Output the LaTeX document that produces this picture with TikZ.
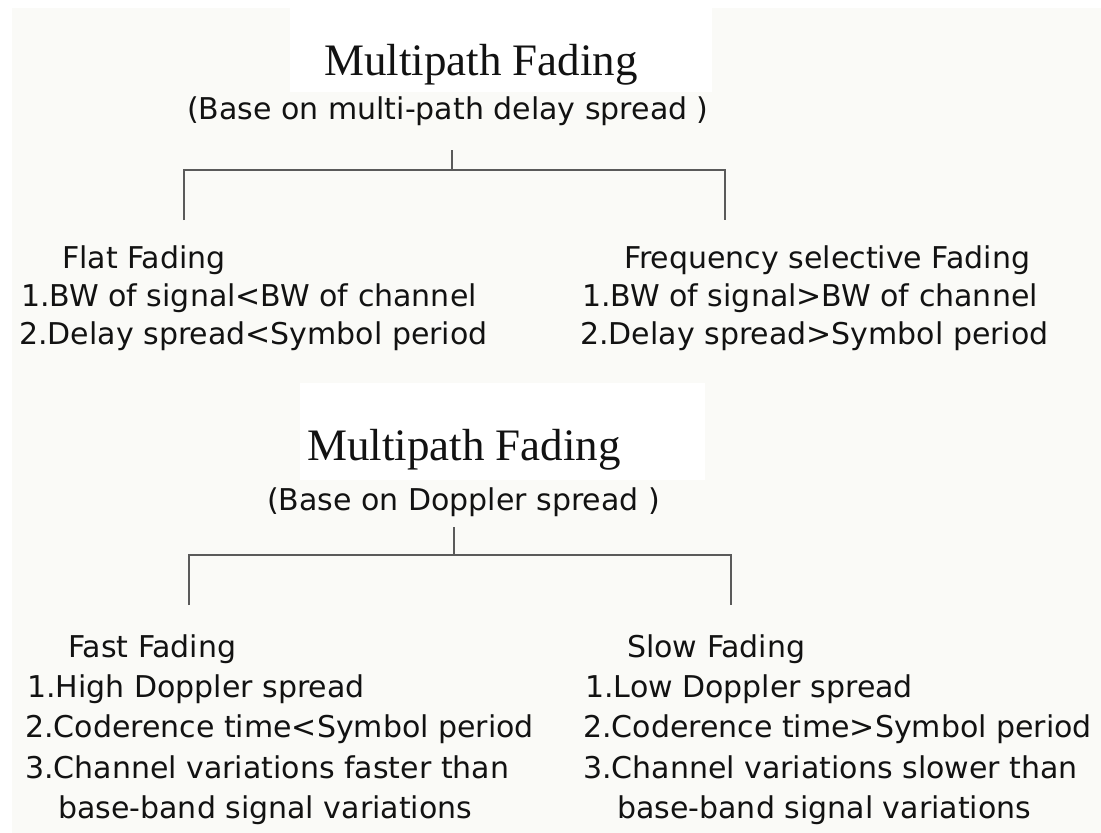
\documentclass[tikz,border=0pt]{standalone}
\usepackage{fontspec}
\setmainfont{Liberation Serif}
\newfontfamily\bodyfont{DejaVu Sans}
\definecolor{paper}{HTML}{FAFAF7}
\definecolor{ink}{HTML}{121212}
\definecolor{wire}{HTML}{5A5A5A}
\begin{document}
\begin{tikzpicture}[x=1pt,y=-1pt,
  titletext/.style={anchor=base,inner sep=0pt,text=ink,font=\fontsize{45}{50}\selectfont},
  subtext/.style={anchor=base west,inner sep=0pt,text=ink,font=\bodyfont\fontsize{30}{36}\selectfont},
  bodytext/.style={anchor=base west,inner sep=0pt,text=ink,font=\bodyfont\fontsize{30}{36}\selectfont},
  branch/.style={draw=wire,line width=1.8pt}]
% page and faint backdrop
\useasboundingbox (0,0) rectangle (1101,833);
\fill[white] (0,0) rectangle (1101,833);
\fill[paper] (12,8) rectangle (1101,833);
\fill[white] (290,8) rectangle (712,92);
\fill[white] (300,383) rectangle (705,480);

% ---- classification by delay spread ----
\node[titletext] (titleA) at (481,75) {Multipath Fading};
\node[subtext] (subA) at (187,119) {(Base on multi-path delay spread )};
\coordinate (tickA) at (452,150);
\coordinate (joinA) at (452,170);
\coordinate (footAl) at (184,220);
\coordinate (footAr) at (725,220);
\draw[branch] (tickA) -- (joinA);
\draw[branch] (footAl) |- (joinA) -| (footAr);

\node[bodytext] (flat) at (62,268) {Flat Fading};
\node[bodytext] (flat1) at (21,306) {1.BW of signal<BW of channel};
\node[bodytext] (flat2) at (19,344) {2.Delay spread<Symbol period};

\node[bodytext] (freq) at (624,268) {Frequency selective Fading};
\node[bodytext] (freq1) at (582,306) {1.BW of signal>BW of channel};
\node[bodytext] (freq2) at (580,344) {2.Delay spread>Symbol period};

% ---- classification by Doppler spread ----
\node[titletext] (titleB) at (464,460) {Multipath Fading};
\node[subtext] (subB) at (267,510) {(Base on Doppler spread )};
\coordinate (tickB) at (454,527);
\coordinate (joinB) at (454,555);
\coordinate (footBl) at (189,605);
\coordinate (footBr) at (731,605);
\draw[branch] (tickB) -- (joinB);
\draw[branch] (footBl) |- (joinB) -| (footBr);

\node[bodytext] (fast) at (68,657) {Fast Fading};
\node[bodytext] (fast1) at (27,697) {1.High Doppler spread};
\node[bodytext] (fast2) at (25,737) {2.Coderence time<Symbol period};
\node[bodytext] (fast3) at (25,778) {3.Channel variations faster than};
\node[bodytext] (fast4) at (58,818) {base-band signal variations};

\node[bodytext] (slow) at (627,657) {Slow Fading};
\node[bodytext] (slow1) at (585,697) {1.Low Doppler spread};
\node[bodytext] (slow2) at (583,737) {2.Coderence time>Symbol period};
\node[bodytext] (slow3) at (583,778) {3.Channel variations slower than};
\node[bodytext] (slow4) at (617,818) {base-band signal variations};
\end{tikzpicture}
\end{document}
